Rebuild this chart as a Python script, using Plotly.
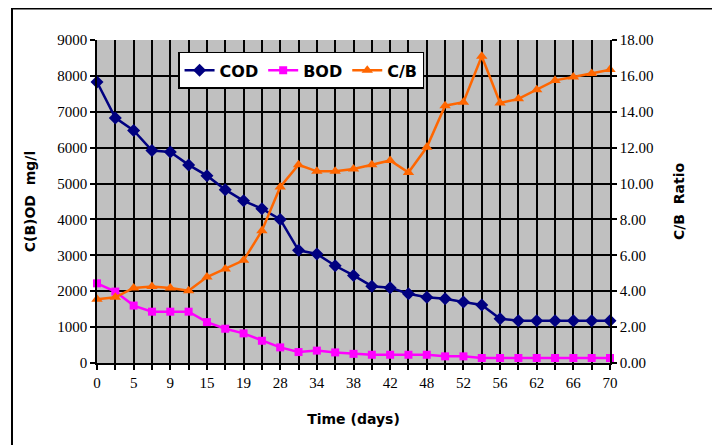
import plotly.graph_objects as go

days = ["0", "3", "5", "7", "9", "12", "15", "17", "19", "24", "28", "31", "34", "36", "38",
        "40", "42", "45", "48", "50", "52", "54", "56", "59", "62", "64", "66", "68", "70"]
cod = [7830, 6830, 6480, 5920, 5880, 5520, 5220, 4830, 4520, 4300, 4000, 3140, 3040, 2710, 2440,
       2140, 2100, 1930, 1830, 1790, 1700, 1615, 1235, 1180, 1180, 1180, 1180, 1180, 1180]
bod = [2220, 1990, 1600, 1430, 1430, 1430, 1140, 955, 825, 620, 435, 305, 345, 295, 255,
       230, 230, 230, 230, 185, 185, 140, 140, 140, 140, 140, 140, 140, 140]
cb = [3.55, 3.66, 4.18, 4.27, 4.18, 4.03, 4.79, 5.24, 5.72, 7.37, 9.81, 11.05, 10.68, 10.68, 10.81,
      11.05, 11.29, 10.62, 12.02, 14.34, 14.53, 17.09, 14.49, 14.72, 15.23, 15.75, 15.94, 16.13, 16.35]
tick_text = [d if i % 2 == 0 else "" for i, d in enumerate(days)]

title_font = dict(family="DejaVu Sans", size=14, color="black")
tick_font = dict(family="Liberation Serif", size=15, color="black")

fig = go.Figure()
fig.add_trace(go.Scatter(x=days, y=cod, name="COD", mode="lines+markers",
                         line=dict(color="#000080", width=2.5),
                         marker=dict(symbol="diamond", size=10, color="#000080"),
                         cliponaxis=False))
fig.add_trace(go.Scatter(x=days, y=bod, name="BOD", mode="lines+markers",
                         line=dict(color="#FF00FF", width=2.5),
                         marker=dict(symbol="square", size=8, color="#FF00FF"),
                         cliponaxis=False))
fig.add_trace(go.Scatter(x=days, y=cb, name="C/B", mode="lines+markers", yaxis="y2",
                         line=dict(color="#FF6600", width=2.5),
                         marker=dict(symbol="triangle-up", size=10, color="#FF6600"),
                         cliponaxis=False))

fig.update_layout(
    width=720, height=445,
    margin=dict(l=89, r=118, t=32, b=90),
    paper_bgcolor="white", plot_bgcolor="#C0C0C0",
    showlegend=True,
    legend=dict(orientation="h", x=0.158, y=0.963, xanchor="left", yanchor="top",
                bgcolor="white", bordercolor="black", borderwidth=1.5,
                font=dict(family="DejaVu Sans", size=16, color="black", weight="bold"),
                itemwidth=30, tracegroupgap=0),
    xaxis=dict(type="category", categoryorder="array", categoryarray=days,
               range=[0, len(days) - 1],
               tickmode="array", tickvals=days, ticktext=tick_text,
               showgrid=True, gridcolor="black", gridwidth=1.5,
               ticks="outside", ticklen=5, tickcolor="black", tickwidth=1.5,
               showline=True, linecolor="black", linewidth=1.5,
               tickfont=tick_font,
               title=dict(text="<b>Time (days)</b>", font=title_font, standoff=24)),
    yaxis=dict(range=[0, 9000], dtick=1000, showgrid=True, gridcolor="black", gridwidth=1.5,
               ticks="outside", ticklen=5, tickcolor="black", tickwidth=1.5,
               showline=True, linecolor="black", linewidth=1.5, zeroline=False,
               tickfont=tick_font,
               title=dict(text="<b>C(B)OD  mg/l</b>", font=title_font, standoff=18)),
    yaxis2=dict(range=[0, 18], dtick=2, tickformat=".2f", overlaying="y", side="right",
                showgrid=False, zeroline=False,
                ticks="outside", ticklen=5, tickcolor="black", tickwidth=1.5,
                showline=True, linecolor="black", linewidth=1.5,
                tickfont=tick_font,
                title=dict(text="<b>C/B  Ratio</b>", font=title_font, standoff=22)),
)

fig.add_shape(type="rect", xref="paper", yref="paper",
              x0=-0.1657, x1=1.2105, y0=-0.35, y1=1.0975,
              line=dict(color="black", width=2), fillcolor="rgba(0,0,0,0)", layer="below")

fig.write_html("out.html")
